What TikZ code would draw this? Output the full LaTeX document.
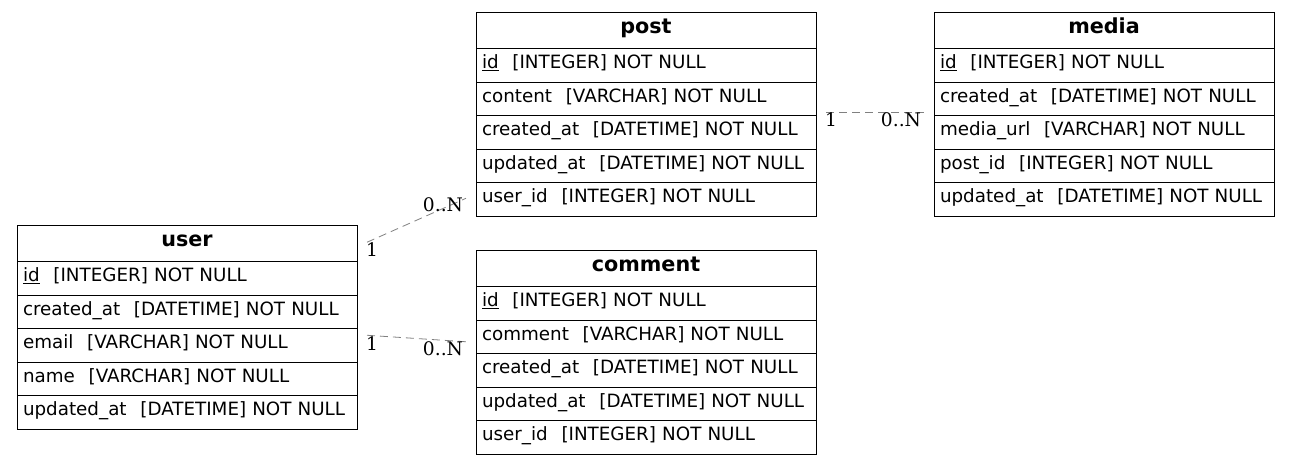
\documentclass[tikz,border=0pt]{standalone}
\usepackage{fontspec}
\setmainfont{DejaVu Sans}
\newfontfamily\lblfont{DejaVu Serif}
\usetikzlibrary{positioning,calc}
\tikzset{
  hdr/.style={draw, line width=1pt, outer sep=0pt, minimum width=340pt, minimum height=36.5pt, inner sep=0pt,
    anchor=north west, font=\fontsize{20.7}{24}\selectfont\bfseries, text height=0.86em, text depth=0.24em},
  fld/.style={draw, line width=1pt, outer sep=0pt, minimum width=340pt, minimum height=33.5pt, text width=328pt,
    inner xsep=6pt, inner ysep=0pt, align=left, font=\fontsize{18.3}{22}\selectfont,
    text height=0.92em, text depth=0.22em},
  rel/.style={draw=gray, line width=0.8pt, dash pattern=on 8pt off 5pt},
  card/.style={inner sep=0pt, font=\lblfont\fontsize{18.67}{22}\selectfont}
}
\newcommand\fname[2]{\mbox{#1\hspace{0.75em}#2}}
\begin{document}
\begin{tikzpicture}[x=1pt,y=-1pt]
\useasboundingbox (0,0) rectangle (1289,464);
% user
\node[hdr] (user) at (17,225) {user};
\node[fld, below=0pt of user] (user-id) {\fname{\underline{id}}{[INTEGER] NOT NULL}};
\node[fld, below=0pt of user-id] (user-created) {\fname{created\_at}{[DATETIME] NOT NULL}};
\node[fld, below=0pt of user-created] (user-email) {\fname{email}{[VARCHAR] NOT NULL}};
\node[fld, below=0pt of user-email] (user-name) {\fname{name}{[VARCHAR] NOT NULL}};
\node[fld, below=0pt of user-name] (user-updated) {\fname{updated\_at}{[DATETIME] NOT NULL}};
% post
\node[hdr] (post) at (476,12) {post};
\node[fld, below=0pt of post] (post-id) {\fname{\underline{id}}{[INTEGER] NOT NULL}};
\node[fld, below=0pt of post-id] (post-content) {\fname{content}{[VARCHAR] NOT NULL}};
\node[fld, below=0pt of post-content] (post-created) {\fname{created\_at}{[DATETIME] NOT NULL}};
\node[fld, below=0pt of post-created] (post-updated) {\fname{updated\_at}{[DATETIME] NOT NULL}};
\node[fld, below=0pt of post-updated] (post-user) {\fname{user\_id}{[INTEGER] NOT NULL}};
% media
\node[hdr] (media) at (934,12) {media};
\node[fld, below=0pt of media] (media-id) {\fname{\underline{id}}{[INTEGER] NOT NULL}};
\node[fld, below=0pt of media-id] (media-created) {\fname{created\_at}{[DATETIME] NOT NULL}};
\node[fld, below=0pt of media-created] (media-url) {\fname{media\_url}{[VARCHAR] NOT NULL}};
\node[fld, below=0pt of media-url] (media-post) {\fname{post\_id}{[INTEGER] NOT NULL}};
\node[fld, below=0pt of media-post] (media-updated) {\fname{updated\_at}{[DATETIME] NOT NULL}};
% comment
\node[hdr] (comment) at (476,250) {comment};
\node[fld, below=0pt of comment] (comment-id) {\fname{\underline{id}}{[INTEGER] NOT NULL}};
\node[fld, below=0pt of comment-id] (comment-comment) {\fname{comment}{[VARCHAR] NOT NULL}};
\node[fld, below=0pt of comment-comment] (comment-created) {\fname{created\_at}{[DATETIME] NOT NULL}};
\node[fld, below=0pt of comment-created] (comment-updated) {\fname{updated\_at}{[DATETIME] NOT NULL}};
\node[fld, below=0pt of comment-updated] (comment-user) {\fname{user\_id}{[INTEGER] NOT NULL}};
% relation end points
\coordinate (r1a) at ($(user.east)+(10,-1)$);
\coordinate (r1b) at ($(post-user.west)+(-10,-1)$);
\coordinate (r2a) at ($(user-email.east)+(10,-10)$);
\coordinate (r2b) at ($(comment-comment.west)+(-10,5)$);
\coordinate (r3a) at ($(post-content.south east)+(10,-3)$);
\coordinate (r3b) at ($(media-created.south west)+(-10,-3)$);
\draw[rel] (r1a) -- (r1b);
\draw[rel] (r2a) -- (r2b);
\draw[rel] (r3a) -- (r3b);
% cardinalities
\node[card] (c1a) at (372,250) {1};
\node[card] (c1b) at (443,205) {0..N};
\node[card] (c2a) at (372,344) {1};
\node[card] (c2b) at (443,349) {0..N};
\node[card] (c3a) at (831,120) {1};
\node[card] (c3b) at (901,120) {0..N};
\end{tikzpicture}
\end{document}
